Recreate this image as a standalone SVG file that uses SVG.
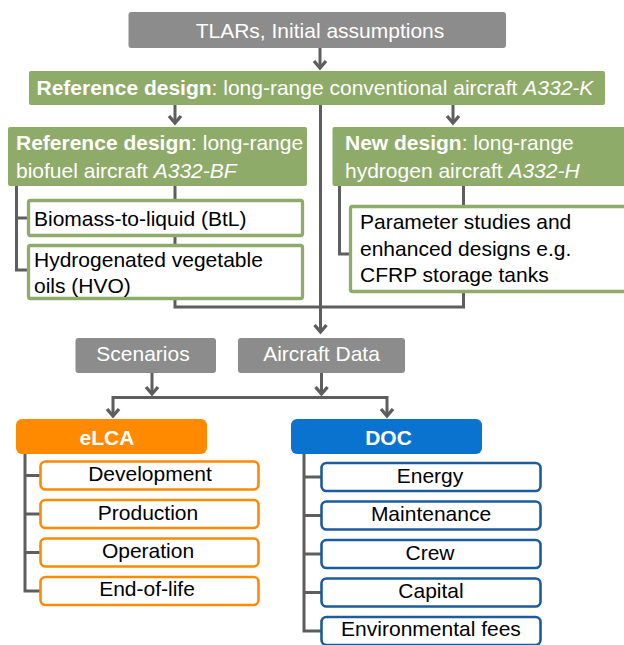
<svg xmlns="http://www.w3.org/2000/svg" width="624" height="645" viewBox="0 0 624 645">
<defs>
<style>
text{font-family:"Liberation Sans",Arial,sans-serif;font-size:21px}
.w{fill:#ffffff}
.k{fill:#000000}
.b{font-weight:bold}
.i{font-style:italic}
.c{text-anchor:middle}
.gray{fill:#8c8c8c}
.green{fill:#8fab69}
.gsub{fill:#ffffff;stroke:#8fab69;stroke-width:3.3}
.osub{fill:#ffffff;stroke:#ff8a00;stroke-width:2.6}
.bsub{fill:#ffffff;stroke:#1d5c9c;stroke-width:2.6}
.ln{fill:none;stroke:#5e5e5e;stroke-width:3}
.ah{fill:none;stroke:#5e5e5e;stroke-width:3.4;stroke-linejoin:miter}
</style>
</defs>
<rect width="624" height="645" fill="#ffffff"/>
<g id="connectors">
<line class="ln" x1="320" y1="48" x2="320" y2="67"/>
<polyline class="ah" points="314,61 320,68 326,61"/>
<line class="ln" x1="175" y1="105" x2="175" y2="122"/>
<polyline class="ah" points="169,116 175,123 181,116"/>
<line class="ln" x1="453" y1="105" x2="453" y2="122"/>
<polyline class="ah" points="447,116 453,123 459,116"/>
<line class="ln" x1="320.5" y1="105" x2="320.5" y2="331"/>
<polyline class="ah" points="314.5,325 320.5,332 326.5,325"/>
<polyline class="ln" points="175,186 175,307 463.5,307 463.5,186"/>
<polyline class="ln" points="16.5,186 16.5,270 28,270"/>
<line class="ln" x1="16.5" y1="218" x2="28" y2="218"/>
<polyline class="ln" points="339.5,186 339.5,254 350,254"/>
<line class="ln" x1="152" y1="373" x2="152" y2="393"/>
<polyline class="ah" points="146,387 152,394 158,387"/>
<line class="ln" x1="321.5" y1="373" x2="321.5" y2="393"/>
<polyline class="ah" points="315.5,387 321.5,394 327.5,387"/>
<polyline class="ln" points="113,416 113,397.5 387,397.5 387,416"/>
<polyline class="ah" points="107,409 113,416 119,409"/>
<polyline class="ah" points="381,409 387,416 393,409"/>
<polyline class="ln" points="25,454 25,591 40,591"/>
<line class="ln" x1="25" y1="475.5" x2="40" y2="475.5"/>
<line class="ln" x1="25" y1="514" x2="40" y2="514"/>
<line class="ln" x1="25" y1="552.5" x2="40" y2="552.5"/>
<polyline class="ln" points="304,454 304,631 321,631"/>
<line class="ln" x1="304" y1="477" x2="321" y2="477"/>
<line class="ln" x1="304" y1="515.5" x2="321" y2="515.5"/>
<line class="ln" x1="304" y1="554" x2="321" y2="554"/>
<line class="ln" x1="304" y1="592.5" x2="321" y2="592.5"/>
</g>
<g id="tlars">
<rect class="gray" x="128.5" y="12" width="377.5" height="36" rx="3"/>
<text class="w c" x="320" y="38">TLARs, Initial assumptions</text>
</g>
<g id="ref-design">
<rect class="green" x="29" y="71" width="576" height="34" rx="2"/>
<text class="w" x="36.5" y="95"><tspan class="b">Reference design</tspan>: long-range conventional aircraft <tspan class="i">A332-K</tspan></text>
</g>
<g id="biofuel">
<rect class="green" x="8" y="127" width="299" height="59" rx="2"/>
<text class="w" x="16" y="150"><tspan class="b">Reference design</tspan>: long-range</text>
<text class="w" x="16" y="178">biofuel aircraft <tspan class="i">A332-BF</tspan></text>
</g>
<g id="hydrogen">
<rect class="green" x="332.5" y="127" width="300" height="59" rx="2"/>
<text class="w" x="345" y="150"><tspan class="b">New design</tspan>: long-range</text>
<text class="w" x="345" y="178">hydrogen aircraft <tspan class="i">A332-H</tspan></text>
</g>
<g id="btl">
<rect class="gsub" x="28.5" y="200.5" width="274" height="35" rx="2"/>
<text class="k" x="34" y="226">Biomass-to-liquid (BtL)</text>
</g>
<g id="hvo">
<rect class="gsub" x="28.5" y="245.5" width="274" height="53" rx="2"/>
<text class="k" x="34" y="267">Hydrogenated vegetable</text>
<text class="k" x="34" y="293">oils (HVO)</text>
</g>
<g id="parameter">
<rect class="gsub" x="350.5" y="206.5" width="290" height="85" rx="2"/>
<text class="k" x="360" y="229">Parameter studies and</text>
<text class="k" x="360" y="256">enhanced designs e.g.</text>
<text class="k" x="360" y="282">CFRP storage tanks</text>
</g>
<g id="scenarios">
<rect class="gray" x="75.5" y="338" width="140.5" height="35" rx="3"/>
<text class="w c" x="143" y="361">Scenarios</text>
</g>
<g id="aircraft-data">
<rect class="gray" x="238" y="338" width="167" height="35" rx="3"/>
<text class="w c" x="321.5" y="361">Aircraft Data</text>
</g>
<g id="elca">
<rect x="16" y="419" width="191" height="35" rx="6" fill="#ff8a00"/>
<text class="w b c" x="107" y="445">eLCA</text>
</g>
<g id="development">
<rect class="osub" x="40.5" y="461.5" width="218" height="28" rx="5"/>
<text class="k c" x="150" y="481">Development</text>
</g>
<g id="production">
<rect class="osub" x="40.5" y="500" width="218" height="28" rx="5"/>
<text class="k c" x="148" y="519.5">Production</text>
</g>
<g id="operation">
<rect class="osub" x="40.5" y="538.5" width="218" height="28" rx="5"/>
<text class="k c" x="148" y="557.5">Operation</text>
</g>
<g id="end-of-life">
<rect class="osub" x="40.5" y="577" width="218" height="28" rx="5"/>
<text class="k c" x="147" y="596">End-of-life</text>
</g>
<g id="doc">
<rect x="291" y="419" width="191" height="35" rx="6" fill="#0a73cf"/>
<text class="w b c" x="388.5" y="445">DOC</text>
</g>
<g id="energy">
<rect class="bsub" x="321.5" y="463" width="219" height="28" rx="5"/>
<text class="k c" x="430" y="483">Energy</text>
</g>
<g id="maintenance">
<rect class="bsub" x="321.5" y="501.5" width="219" height="28" rx="5"/>
<text class="k c" x="431" y="521">Maintenance</text>
</g>
<g id="crew">
<rect class="bsub" x="321.5" y="540" width="219" height="28" rx="5"/>
<text class="k c" x="430" y="559.5">Crew</text>
</g>
<g id="capital">
<rect class="bsub" x="321.5" y="578.5" width="219" height="28" rx="5"/>
<text class="k c" x="431" y="597.5">Capital</text>
</g>
<g id="environmental-fees">
<rect class="bsub" x="321.5" y="617" width="219" height="28" rx="5"/>
<text class="k c" x="431" y="635.5">Environmental fees</text>
</g>
</svg>
